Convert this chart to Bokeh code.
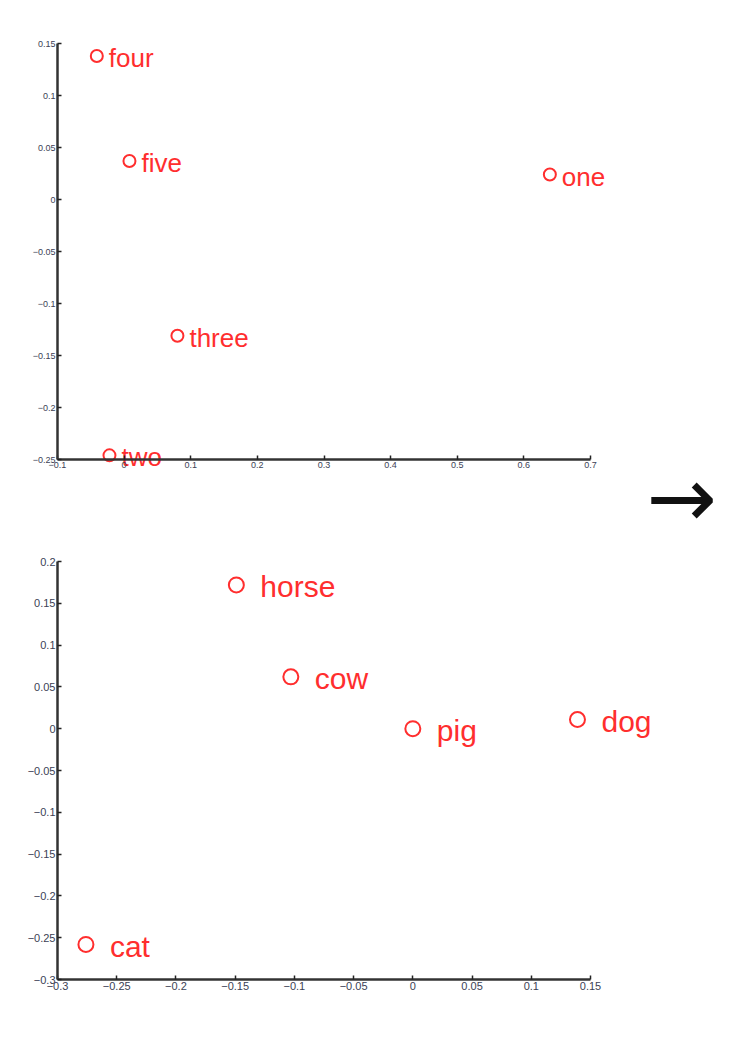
from bokeh.plotting import figure
from bokeh.layouts import column
from bokeh.models import ColumnDataSource, FixedTicker, Label, LinearAxis
from bokeh.core.properties import value
from bokeh.embed import file_html
from bokeh.resources import INLINE

# ---- data: top panel (numbers) ----
num_words = ["four", "five", "one", "three", "two"]
num_x = [-0.041, 0.008, 0.639, 0.080, -0.022]
num_y = [0.138, 0.037, 0.024, -0.131, -0.246]
top_xticks = [-0.1, 0, 0.1, 0.2, 0.3, 0.4, 0.5, 0.6, 0.7]
top_yticks = [-0.25, -0.2, -0.15, -0.1, -0.05, 0, 0.05, 0.1, 0.15]

# ---- data: bottom panel (animals) ----
ani_words = ["horse", "cow", "pig", "dog", "cat"]
ani_x = [-0.149, -0.103, 0.0, 0.139, -0.276]
ani_y = [0.172, 0.062, 0.0, 0.011, -0.258]
bot_xticks = [-0.3, -0.25, -0.2, -0.15, -0.1, -0.05, 0, 0.05, 0.1, 0.15]
bot_yticks = [-0.3, -0.25, -0.2, -0.15, -0.1, -0.05, 0, 0.05, 0.1, 0.15, 0.2]

RED = "#ff2e2e"
FONT = "Liberation Sans"
W = 718
AX_LEFT = 57      # pixel column of the y axis
AX_W = 533        # pixel length of the x axis


def fmt(v):
    return ("%g" % v).replace("-", "\u2212")


def make_axes(p, xt, yt, fs):
    for ticks, side, cross in ((xt, "below", yt[0]), (yt, "left", xt[0])):
        ax = LinearAxis(ticker=FixedTicker(ticks=ticks),
                        fixed_location=cross, bounds=(min(ticks), max(ticks)))
        ax.major_label_overrides = {t: fmt(t) for t in ticks}
        ax.axis_line_width = 2.5
        ax.axis_line_color = "#333333"
        ax.major_tick_line_color = "#222222"
        ax.major_tick_line_width = 1.5
        ax.major_tick_in = 4
        ax.major_tick_out = 0
        ax.minor_tick_line_color = None
        ax.major_label_text_font = FONT
        ax.major_label_text_font_size = fs
        ax.major_label_text_color = "#3c3f55"
        ax.major_label_standoff = 2
        p.add_layout(ax, side)


def base(height, top_px, ax_h, xt, yt, fs):
    # frame covers whole canvas; axes are drawn at fixed data positions
    x0, x1 = min(xt), max(xt)
    y0, y1 = min(yt), max(yt)
    sx = (x1 - x0) / AX_W
    sy = (y1 - y0) / ax_h
    xr = (x0 - AX_LEFT * sx, x0 + (W - AX_LEFT) * sx)
    yr = (y1 - (height - top_px) * sy, y1 + top_px * sy)
    p = figure(width=W, height=height, x_range=xr, y_range=yr,
               output_backend="svg", toolbar_location=None,
               x_axis_location=None, y_axis_location=None,
               min_border=0)
    p.xgrid.visible = False
    p.ygrid.visible = False
    p.outline_line_color = None
    p.background_fill_color = "white"
    p.border_fill_color = "white"
    make_axes(p, xt, yt, fs)
    return p


TOP_H = 550

# top figure
p1 = base(TOP_H, 43, 416, top_xticks, top_yticks, "9px")
src1 = ColumnDataSource(dict(x=num_x, y=num_y, w=num_words))
p1.scatter("x", "y", source=src1, marker="circle", size=12, fill_color=None,
           line_color=RED, line_width=2)
p1.text("x", "y", text="w", source=src1, x_offset=12, y_offset=2,
        text_font=value(FONT), text_font_size="26px", text_color=RED,
        text_baseline="middle", text_align="left")
p1.add_layout(Label(x=646, y=TOP_H - 497, x_units="screen", y_units="screen",
                    text="\u2192", text_font="DejaVu Sans",
                    text_font_size="84px", text_color="#111111",
                    text_baseline="middle", text_align="left"))

# bottom figure
p2 = base(1037 - TOP_H, 561 - TOP_H, 418, bot_xticks, bot_yticks, "11px")
src2 = ColumnDataSource(dict(x=ani_x, y=ani_y, w=ani_words))
p2.scatter("x", "y", source=src2, marker="circle", size=15, fill_color=None,
           line_color=RED, line_width=2)
p2.text("x", "y", text="w", source=src2, x_offset=24, y_offset=2,
        text_font=value(FONT), text_font_size="30px", text_color=RED,
        text_baseline="middle", text_align="left")

layout = column(p1, p2, spacing=0)
open("out.html", "w").write(file_html(layout, INLINE))
